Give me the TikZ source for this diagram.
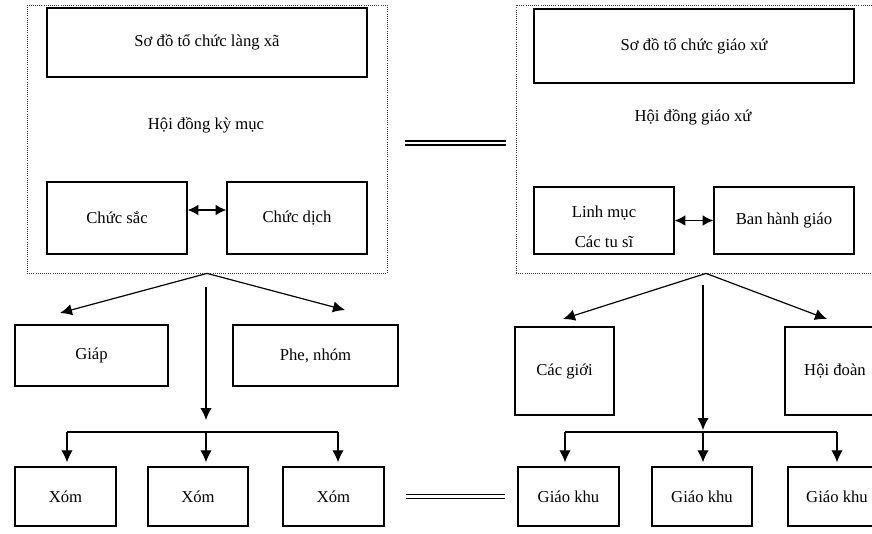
\documentclass[tikz,border=0pt]{standalone}
\usepackage{fontspec}
\setmainfont{Liberation Serif}
\usetikzlibrary{arrows.meta}

\begin{document}
\begin{tikzpicture}[x=0.75pt, y=-0.75pt]
\tikzstyle{every node}=[font=\fontsize{12.5}{15}\selectfont]
\tikzstyle{box}=[draw, line width=1pt, inner sep=0pt]
\tikzstyle{frame}=[draw=black!75, densely dotted, line width=0.6pt, inner sep=0pt, minimum height=201pt]
\tikzstyle{link}=[draw, line width=0.9pt, -{Latex[length=9pt,width=8.5pt]}]
\tikzstyle{twoway}=[draw, line width=0.9pt, {Latex[length=8pt,width=8pt]}-{Latex[length=8pt,width=8pt]}]
\tikzstyle{eqthick}=[line width=1.5pt, double distance=1.3pt]
\tikzstyle{eqthin}=[line width=0.7pt, double distance=2.2pt]

\useasboundingbox (0,0) rectangle (872,533);

\node[frame, minimum width=270pt] at (207,139) (F1) {};
\node[box, minimum width=240pt, minimum height=51.75pt] at (207,42.5) (LT) {Sơ đồ tổ chức làng xã};
\node at (206,125) (HK) {Hội đồng kỳ mục};
\node[box, minimum width=105pt, minimum height=54pt] at (117,218) (CS) {Chức sắc};
\node[box, minimum width=105pt, minimum height=54pt] at (297,218) (CD) {Chức dịch};

\node[frame, minimum width=285pt] at (706,139) (F2) {};
\node[box, minimum width=240pt, minimum height=55.5pt] at (694,46) (RT) {Sơ đồ tổ chức giáo xứ};
\node at (693,117) (HG) {Hội đồng giáo xứ};
\node[box, minimum width=105pt, minimum height=50.25pt, align=center] at (604,220.5) (LM) {\rule{0pt}{18pt}Linh mục\\[7pt]Các tu sĩ};
\node[box, minimum width=105pt, minimum height=50.25pt] at (784,220.5) (BH) {Ban hành giáo};

\node[box, minimum width=114.75pt, minimum height=45.75pt] at (91.5,355.5) (GP) {Giáp};
\node[box, minimum width=123.75pt, minimum height=45.75pt] at (315.5,355.5) (PN) {Phe, nhóm};
\node[box, minimum width=75.75pt, minimum height=44.25pt] at (65.5,496.5) (X1) {Xóm};
\node[box, minimum width=75pt, minimum height=44.25pt] at (198,496.5) (X2) {Xóm};
\node[box, minimum width=75.75pt, minimum height=44.25pt] at (333.5,496.5) (X3) {Xóm};

\node[box, minimum width=74.25pt, minimum height=66pt] at (564.5,371) (CG) {Các giới};
\node[box, minimum width=75pt, minimum height=66pt] at (835,371) (HD) {Hội đoàn};
\node[box, minimum width=75.75pt, minimum height=44.25pt] at (568.5,496.5) (G1) {Giáo khu};
\node[box, minimum width=75pt, minimum height=44.25pt] at (702,496.5) (G2) {Giáo khu};
\node[box, minimum width=73.5pt, minimum height=44.25pt] at (837,496.5) (G3) {Giáo khu};

\coordinate (LA) at (60,313);
\coordinate (LC) at (345,310);
\coordinate (LV) at (206,287);
\coordinate (LW) at (206,420);
\coordinate (LB1) at (67,432);
\coordinate (LB2) at (206,432);
\coordinate (LB3) at (338,432);

\coordinate (RA) at (563,319);
\coordinate (RC) at (827,319);
\coordinate (RV) at (703,285);
\coordinate (RW) at (703,430);
\coordinate (RB1) at (565,432);
\coordinate (RB2) at (703,432);
\coordinate (RB3) at (837,432);

\draw[twoway] ([yshift=6pt]CS.east) -- ([yshift=6pt]CD.west);
\draw[twoway] (LM.east) -- (BH.west);

\draw (F1.south) edge[link] (LA) edge[link] (LC);
\draw[link] (LV) -- (LW);
\draw[line width=0.9pt] (LB1) -- (LB3);
\draw[link, shorten >=3pt] (LB1) -- (LB1 |- X1.north);
\draw[link, shorten >=3pt] (LB2) -- (LB2 |- X2.north);
\draw[link, shorten >=3pt] (LB3) -- (LB3 |- X3.north);

\draw (F2.south) edge[link] (RA) edge[link] (RC);
\draw[link] (RV) -- (RW);
\draw[line width=0.9pt] (RB1) -- (RB3);
\draw[link, shorten >=3pt] (RB1) -- (RB1 |- G1.north);
\draw[link, shorten >=3pt] (RB2) -- (RB2 |- G2.north);
\draw[link, shorten >=3pt] (RB3) -- (RB3 |- G3.north);

\draw[eqthick, shorten <=13.5pt, shorten >=7.5pt] ([yshift=-3pt]F1.east) -- ([yshift=-3pt]F2.west);
\draw[eqthin, shorten <=15.75pt, shorten >=9pt] (X3.east) -- (G1.west);
\end{tikzpicture}
\end{document}
